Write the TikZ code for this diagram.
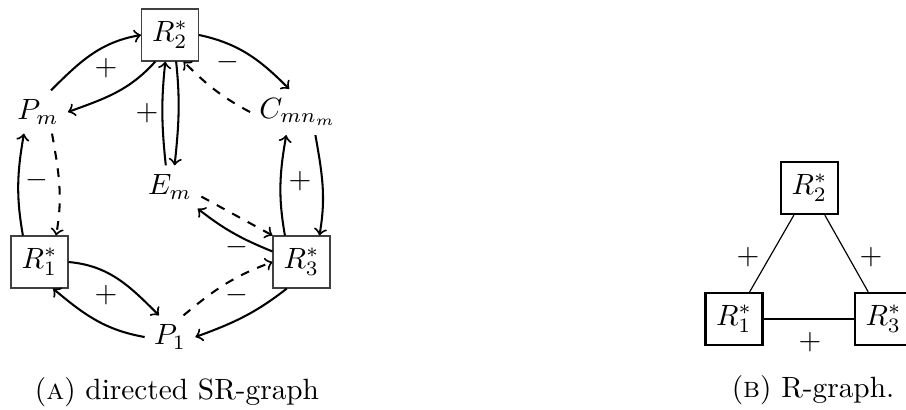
\documentclass[tikz,border=0pt]{standalone}
\usetikzlibrary{arrows}
\begin{document}
\begin{tikzpicture}[x=0.341pt,y=-0.341pt,
  rbox/.style={draw=black!75,line width=0.4pt,inner sep=3pt,minimum width=19.4pt,minimum height=17.7pt},
  rboxb/.style={draw=black,line width=0.8pt,inner sep=3pt,minimum width=19.4pt,minimum height=17.7pt},
  spc/.style={inner sep=3pt},
  edge/.style={->,line width=0.7pt},
  dedge/.style={->,line width=0.7pt,dashed},
  redge/.style={line width=0.4pt},
  lbl/.style={inner sep=0pt}]
\useasboundingbox (0,0) rectangle (906,409);
% panel A
\node[rbox] (R2) at (170,35) {$R_2^*$};
\node[rbox] (R1) at (39.5,262) {$R_1^*$};
\node[rbox] (R3) at (301.5,262) {$R_3^*$};
\node[spc] (Pm) at (38,112) {$P_m$};
\node[spc] (C) at (298,112) {$C_{mn_m}$};
\node[spc] (Em) at (170,187) {$E_m$};
\node[spc] (P1) at (170,337) {$P_1$};
% top-left
\draw[edge] (Pm.59) to[out=45,in=190] (R2.west);
\draw[edge] (R2.241) to[out=228,in=20] (Pm.east);
% top-right
\draw[edge] (R2.east) to[out=-12,in=135] (C.111);
\draw[dedge] (C.west) to[out=152,in=-45] (R2.297);
% center vertical
\draw[edge] (Em.101) to[out=96,in=264] (R2.260);
\draw[edge] (R2.283) to[out=-84,in=84] (Em.78);
% left vertical
\draw[edge] (R1.122) to[out=100,in=260] (Pm.237);
\draw[dedge] (Pm.303) to[out=-80,in=80] (R1.58);
% right vertical
\draw[edge] (R3.122) to[out=100,in=260] (C.243);
\draw[edge] (C.-53) to[out=-80,in=80] (R3.56);
% E_m -- R3
\draw[dedge] (Em.-17) -- (R3.north west);
\draw[edge] (R3.160) to[out=158,in=-38] (Em.-38);
% bottom
\draw[edge] (R1.east) to[out=-5,in=135] (P1.117);
\draw[edge] (P1.west) to[out=170,in=-40] (R1.-63);
\draw[dedge] (P1.58) to[out=40,in=200] (R3.west);
\draw[edge] (R3.241) to[out=218,in=20] (P1.east);
% labels
\node[lbl] (l1) at (106,68) {$+$};
\node[lbl] (l2) at (228,62) {$-$};
\node[lbl] (l3) at (147,113) {$+$};
\node[lbl] (l4) at (37,180) {$-$};
\node[lbl] (l5) at (300,181) {$+$};
\node[lbl] (l6) at (237,247) {$-$};
\node[lbl] (l7) at (106,295) {$+$};
\node[lbl] (l8) at (237,295) {$-$};
\node (capA) at (177,392) {(\textsc{a}) directed SR-graph};
% panel B
\node[rboxb] (B2) at (809.5,188) {$R_2^*$};
\node[rboxb] (B1) at (734,319) {$R_1^*$};
\node[rboxb] (B3) at (883.5,319) {$R_3^*$};
\draw[redge] (B2) -- (B1);
\draw[redge] (B2) -- (B3);
\draw[redge] (B1) -- (B3);
\node[lbl] (m1) at (748,257) {$+$};
\node[lbl] (m2) at (871,257) {$+$};
\node[lbl] (m3) at (810,342) {$+$};
\node (capB) at (813,390) {(\textsc{b}) R-graph.};
\end{tikzpicture}
\end{document}
